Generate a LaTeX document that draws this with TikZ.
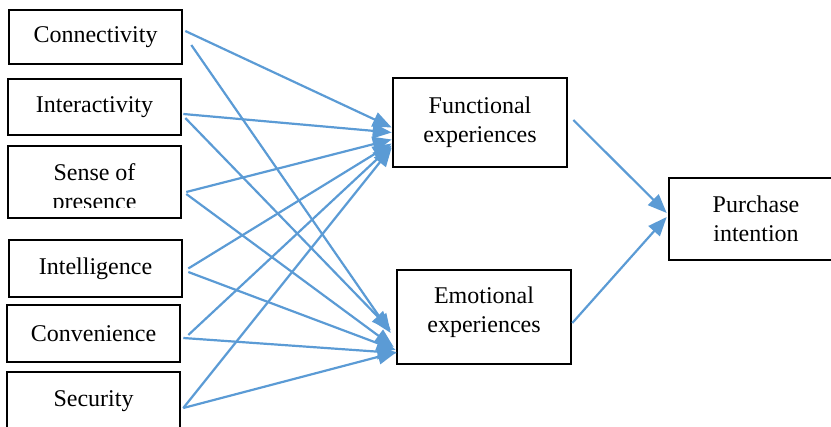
\documentclass[tikz,border=0pt]{standalone}
\usepackage{fontspec}
\setmainfont{Liberation Serif}
\usetikzlibrary{arrows.meta}
\definecolor{linkBlue}{RGB}{91,155,213}

\begin{document}
\begin{tikzpicture}
[x=0.5pt,y=-0.5pt,
  boxDecorate/.style={shape=rectangle,draw,line width=1.3pt,inner sep=0pt,minimum width=86.5pt,font=\fontsize{12}{14.5}\selectfont,align=center},
  linkDecorate/.style={draw=linkBlue,line width=1.1pt,-{Triangle[length=9.5pt,width=7.5pt]}}]
\useasboundingbox (0,0) rectangle (831,427);
%% factor boxes on the left
\foreach \nodename/\x/\y/\h/\txt in {con/95.5/37/27/Connectivity, int/94.5/107/28/Interactivity, intel/95.5/268.5/28.5/Intelligence, conv/93.5/333.5/28.5/Convenience, sec/93.5/401/29/Security}
{
  \node (\nodename) at (\x,\y) [boxDecorate,minimum height=\h pt] {\txt};
}
%% this one is too small for its text
\node (sen) at (94.5,182) [boxDecorate,minimum height=36pt] {};
\begin{scope}
  \clip (8,146) rectangle (181,208);
  \node (senText) at (94.5,189) [boxDecorate,draw=none] {Sense of\\presence};
\end{scope}
%% experience boxes and outcome
\node (fun) at (480,122.5) [boxDecorate,minimum width=87pt,minimum height=44.5pt] {Functional\\experiences};
\node (emo) at (484,317) [boxDecorate,minimum width=87pt,minimum height=47pt] {\raisebox{2.5pt}[\height][\depth]{\begin{tabular}{@{}c@{}}Emotional\\experiences\end{tabular}}};
\node (pur) at (756,219) [boxDecorate,minimum width=87pt,minimum height=41pt] {Purchase\\intention};
%% links
\foreach \startnode/\sx/\sy/\endnode/\ex/\ey in {con/2/-6/fun/0/5, con/8/8/emo/-5/16,
  int/1/7/fun/0/10, int/3/11/emo/-5/13, sen/4/10/fun/0/17, sen/4/12/emo/-2/30,
  intel/5/0/fun/0/21, intel/5/3.5/emo/0/33, conv/7/1.5/fun/0/23, conv/2/4.5/emo/1/36,
  sec/2/7/fun/0/25, sec/2/7/emo/1/35}
{
  \draw[linkDecorate] ([shift={(\sx,\sy)}]\startnode.east) -- ([shift={(\ex,\ey)}]\endnode.west);
}
\draw[linkDecorate] ([shift={(5,-2.5)}]fun.east) -- ([shift={(-1,-6)}]pur.west);
\draw[linkDecorate] ([shift={(0,6)}]emo.east) -- ([shift={(-1,-2)}]pur.west);
\end{tikzpicture}
\end{document}
